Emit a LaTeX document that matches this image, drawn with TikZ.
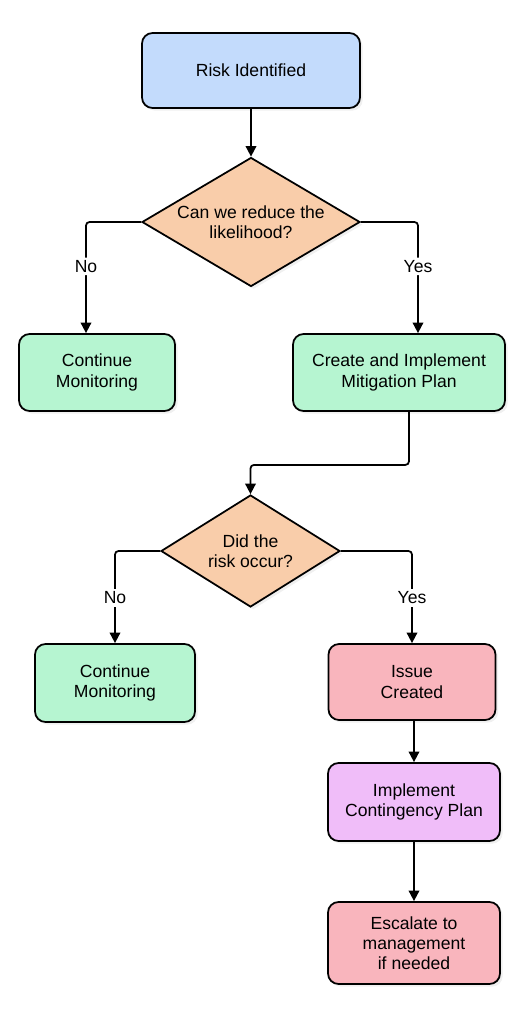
\documentclass[tikz,border=0pt]{standalone}
\usepackage{fontspec}
\setmainfont{Liberation Sans}
\usepackage{tikz}
\usetikzlibrary{shapes.geometric,arrows.meta,shadows}

\definecolor{StartBlue}{HTML}{C3DBFC}
\definecolor{AskOrange}{HTML}{F9CDAA}
\definecolor{GoGreen}{HTML}{B6F5D1}
\definecolor{IssueRed}{HTML}{F9B5BD}
\definecolor{PlanViolet}{HTML}{F0BDF9}

\tikzset{
	box/.style={draw, line width=1pt, rounded corners=6pt, align=center,
		font=\fontsize{10}{11.5}\selectfont,
		drop shadow={opacity=0.12, shadow xshift=1.5pt, shadow yshift=-1.5pt}},
	question/.style={draw, diamond, line width=1pt, inner sep=0.5pt, align=center,
		font=\fontsize{10}{11.5}\selectfont,
		drop shadow={opacity=0.12, shadow xshift=1.5pt, shadow yshift=-1.5pt}},
	flow/.style={line width=1pt, rounded corners=2pt, -{Triangle[length=6pt,width=6pt]}},
	answer/.style={fill=white, inner sep=1.5pt, font=\fontsize{10}{11.5}\selectfont}
}

\begin{document}
\begin{tikzpicture}
		\useasboundingbox (0,0) rectangle (10.52,-20.48);

		% Start.
		\node[box, fill=StartBlue, minimum width=4.36cm, minimum height=1.5cm]
			(risk) at (5.02,-1.41) {Risk Identified};

		% First question and its answers.
		\node[question, fill=AskOrange, aspect=1.69, minimum width=4.36cm, minimum height=2.58cm]
			(likely) at (5.02,-4.44) {Can we reduce the\\likelihood?};
		\node[box, fill=GoGreen, minimum width=3.12cm, minimum height=1.54cm]
			(watchA) at (1.94,-7.45) {Continue\\Monitoring};
		\node[box, fill=GoGreen, minimum width=4.24cm, minimum height=1.54cm]
			(mitigate) at (7.98,-7.45) {Create and Implement\\Mitigation Plan};

		% Second question and its answers.
		\node[question, fill=AskOrange, aspect=1.6, minimum width=3.58cm, minimum height=2.24cm]
			(occur) at (5.01,-11.02) {Did the\\risk occur?};
		\node[box, fill=GoGreen, minimum width=3.2cm, minimum height=1.56cm]
			(watchB) at (2.30,-13.66) {Continue\\Monitoring};
		\node[box, fill=IssueRed, minimum width=3.34cm, minimum height=1.52cm]
			(issue) at (8.24,-13.64) {Issue\\Created};

		% Follow-up.
		\node[box, fill=PlanViolet, minimum width=3.44cm, minimum height=1.56cm]
			(contingency) at (8.28,-16.04) {Implement\\Contingency Plan};
		\node[box, fill=IssueRed, minimum width=3.44cm, minimum height=1.64cm]
			(escalate) at (8.28,-18.86) {Escalate to\\management\\if needed};

		% Connectors.
		\draw[flow] (risk) -- (likely);
		\draw[flow] (likely.west) -| ([xshift=-0.22cm]watchA.north)
			node[answer, pos=0.7] {No};
		\draw[flow] (likely.east) -| ([xshift=0.38cm]mitigate.north)
			node[answer, pos=0.7] {Yes};
		\draw[flow] ([xshift=0.2cm]mitigate.south) -- ++(0,-1.06) -| (occur.north);
		\draw[flow] (occur.west) -| (watchB.north)
			node[answer, pos=0.755] {No};
		\draw[flow] (occur.east) -| (issue.north)
			node[answer, pos=0.755] {Yes};
		\draw[flow] (contingency.north |- issue.south) -- (contingency.north);
		\draw[flow] (contingency) -- (escalate);
	\end{tikzpicture}
\end{document}
